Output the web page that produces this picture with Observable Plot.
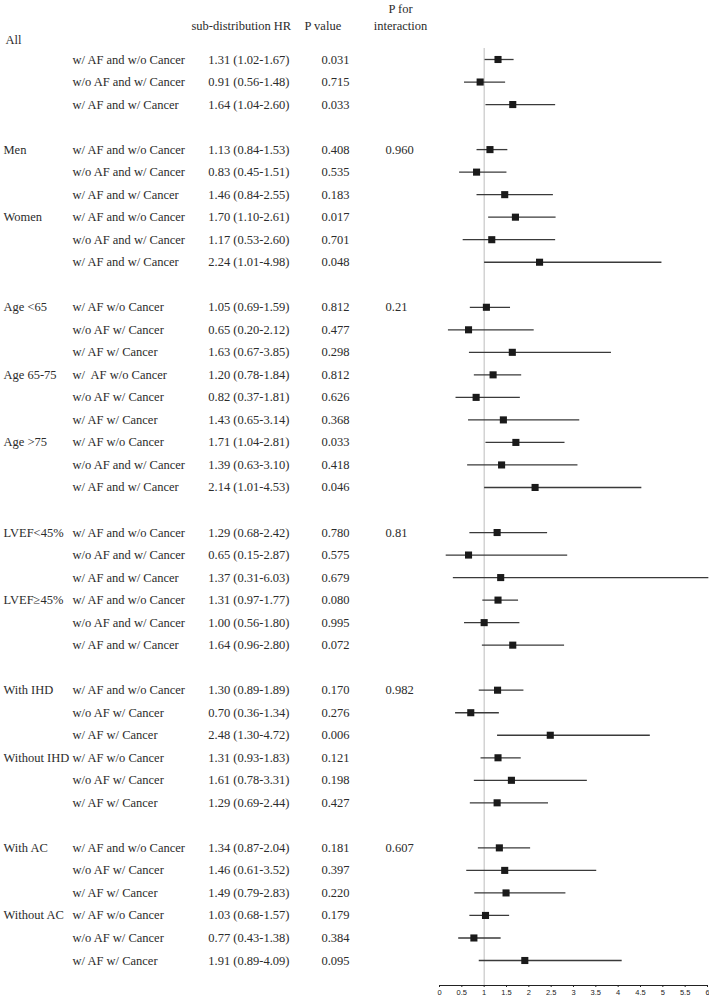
<!DOCTYPE html>
<html>
<head>
<meta charset="utf-8">
<script src="https://cdn.jsdelivr.net/npm/d3@7"></script>
<script src="https://cdn.jsdelivr.net/npm/@observablehq/plot@0.6"></script>
<style>
  html, body { margin: 0; padding: 0; background: white; }
  svg text { white-space: pre; }
</style>
</head>
<body>
<div id="chart"></div>
<script>
// ---- Data ----
const sections = [
  ["All"],
  ["Men", "Women"],
  ["Age <65", "Age 65-75", "Age >75"],
  ["LVEF<45%", "LVEF≥45%"],
  ["With IHD", "Without IHD"],
  ["With AC", "Without AC"]
];
const pInteraction = {"Men": "0.960", "Age <65": "0.21", "LVEF<45%": "0.81", "With IHD": "0.982", "With AC": "0.607"};

const subLabels = [
  "w/ AF and w/o Cancer", "w/o AF and w/ Cancer", "w/ AF and w/ Cancer",
  "w/ AF and w/o Cancer", "w/o AF and w/ Cancer", "w/ AF and w/ Cancer",
  "w/ AF and w/o Cancer", "w/o AF and w/ Cancer", "w/ AF and w/ Cancer",
  "w/ AF w/o Cancer", "w/o AF w/ Cancer", "w/ AF w/ Cancer",
  "w/  AF w/o Cancer", "w/o AF w/ Cancer", "w/ AF w/ Cancer",
  "w/ AF w/o Cancer", "w/o AF and w/ Cancer", "w/ AF and w/ Cancer",
  "w/ AF and w/o Cancer", "w/o AF and w/ Cancer", "w/ AF and w/ Cancer",
  "w/ AF and w/o Cancer", "w/o AF and w/ Cancer", "w/ AF and w/ Cancer",
  "w/ AF and w/o Cancer", "w/o AF w/ Cancer", "w/ AF w/ Cancer",
  "w/ AF w/o Cancer", "w/o AF w/ Cancer", "w/ AF w/ Cancer",
  "w/ AF and w/o Cancer", "w/o AF w/ Cancer", "w/ AF w/ Cancer",
  "w/ AF w/o Cancer", "w/o AF w/ Cancer", "w/ AF w/ Cancer"
];
const hr = [1.31, 0.91, 1.64, 1.13, 0.83, 1.46, 1.70, 1.17, 2.24,
            1.05, 0.65, 1.63, 1.20, 0.82, 1.43, 1.71, 1.39, 2.14,
            1.29, 0.65, 1.37, 1.31, 1.00, 1.64,
            1.30, 0.70, 2.48, 1.31, 1.61, 1.29,
            1.34, 1.46, 1.49, 1.03, 0.77, 1.91];
const lo = [1.02, 0.56, 1.04, 0.84, 0.45, 0.84, 1.10, 0.53, 1.01,
            0.69, 0.20, 0.67, 0.78, 0.37, 0.65, 1.04, 0.63, 1.01,
            0.68, 0.15, 0.31, 0.97, 0.56, 0.96,
            0.89, 0.36, 1.30, 0.93, 0.78, 0.69,
            0.87, 0.61, 0.79, 0.68, 0.43, 0.89];
const hi = [1.67, 1.48, 2.60, 1.53, 1.51, 2.55, 2.61, 2.60, 4.98,
            1.59, 2.12, 3.85, 1.84, 1.81, 3.14, 2.81, 3.10, 4.53,
            2.42, 2.87, 6.03, 1.77, 1.80, 2.80,
            1.89, 1.34, 4.72, 1.83, 3.31, 2.44,
            2.04, 3.52, 2.83, 1.57, 1.38, 4.09];
const pValues = ["0.031", "0.715", "0.033", "0.408", "0.535", "0.183", "0.017", "0.701", "0.048",
                 "0.812", "0.477", "0.298", "0.812", "0.626", "0.368", "0.033", "0.418", "0.046",
                 "0.780", "0.575", "0.679", "0.080", "0.995", "0.072",
                 "0.170", "0.276", "0.006", "0.121", "0.198", "0.427",
                 "0.181", "0.397", "0.220", "0.179", "0.384", "0.095"];
const xTicks = [0, 0.5, 1, 1.5, 2, 2.5, 3, 3.5, 4, 4.5, 5, 5.5, 6];
const headers = ["sub-distribution HR", "P value", "P for", "interaction"];

// ---- Build row table (ordering slots) ----
const rows = [];
const groupRows = [];
let slot = 0, k = 0;
for (const sec of sections) {
  for (const g of sec) {
    const own = g === "All";
    groupRows.push({group: g, slot: slot, pint: pInteraction[g] || "", own});
    if (own) slot += 1;
    for (let j = 0; j < 3; j++) {
      rows.push({
        sub: subLabels[k], hr: hr[k], lo: lo[k], hi: hi[k], p: pValues[k],
        hrText: `${hr[k].toFixed(2)} (${lo[k].toFixed(2)}-${hi[k].toFixed(2)})`,
        slot: slot
      });
      slot++; k++;
    }
  }
  slot++;
}
const lastSlot = slot - 2;

const serif = "'Liberation Serif', 'Times New Roman', Times, serif";
const fs = 12.5;
const ink = "#2b2b2b";
const left = 439;
const txt = {lineAnchor: "middle", fontSize: fs, fontFamily: serif, fill: ink};

const chart = Plot.plot({
  width: 709,
  height: 997,
  marginLeft: left,
  marginRight: 2,
  marginTop: 48,
  marginBottom: 12,
  style: {background: "white", overflow: "visible"},
  x: {domain: [0, 6]},
  y: {domain: [1, lastSlot], range: [59, 960], axis: null},
  marks: [
    Plot.ruleX([1], {stroke: "#bdbdbd", strokeWidth: 1}),
    Plot.frame({anchor: "bottom", stroke: "#222", strokeWidth: 1}),
    Plot.axisX({ticks: xTicks, tickSize: 2, tickPadding: 2, fontSize: 7.5,
                fontFamily: "'Liberation Sans', Arial, sans-serif", label: null,
                tickFormat: d => String(d), stroke: "#222", fill: "#222"}),
    Plot.ruleY(rows, {y: "slot", x1: "lo", x2: "hi", stroke: "#3a3a3a", strokeWidth: 1.3}),
    Plot.dot(rows, {x: "hr", y: "slot", symbol: "square", r: 4, fill: "#1a1a1a", stroke: null}),
    // group labels
    Plot.text(groupRows.filter(d => !d.own), {y: "slot", text: "group", frameAnchor: "left", dx: 3 - left,
      textAnchor: "start", ...txt}),
    Plot.text(groupRows.filter(d => d.own), {y: "slot", text: "group", frameAnchor: "left", dx: 5 - left, dy: 3,
      textAnchor: "start", ...txt}),
    // subgroup labels
    Plot.text(rows, {y: "slot", text: "sub", frameAnchor: "left", dx: 72 - left,
      textAnchor: "start", ...txt}),
    // HR (CI)
    Plot.text(rows, {y: "slot", text: "hrText", frameAnchor: "left", dx: 289 - left,
      textAnchor: "end", ...txt}),
    // P value
    Plot.text(rows, {y: "slot", text: "p", frameAnchor: "left", dx: 349 - left,
      textAnchor: "end", ...txt}),
    // P for interaction
    Plot.text(groupRows, {y: "slot", text: "pint", frameAnchor: "left", dx: 385 - left,
      textAnchor: "start", ...txt}),
    // headers
    Plot.text([headers[0]], {text: d => d, frameAnchor: "top-left", dx: 191 - left, dy: -23,
      textAnchor: "start", ...txt}),
    Plot.text([headers[1]], {text: d => d, frameAnchor: "top-left", dx: 304 - left, dy: -23,
      textAnchor: "start", ...txt}),
    Plot.text([headers[2]], {text: d => d, frameAnchor: "top-left", dx: 400 - left, dy: -40,
      textAnchor: "middle", ...txt}),
    Plot.text([headers[3]], {text: d => d, frameAnchor: "top-left", dx: 400 - left, dy: -23,
      textAnchor: "middle", ...txt})
  ]
});
document.getElementById("chart").appendChild(chart);
</script>
</body>
</html>
